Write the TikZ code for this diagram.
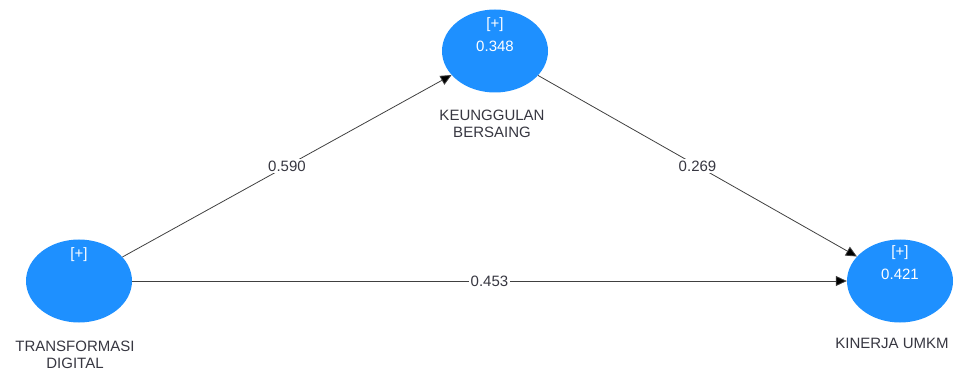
\documentclass[tikz,border=0pt]{standalone}
\usepackage{fontspec}
\setmainfont{Liberation Sans}
\usetikzlibrary{positioning,shapes.geometric,arrows.meta}
\definecolor{lvblue}{RGB}{30,144,255}
\definecolor{txtgray}{RGB}{55,55,65}

\begin{document}
\begin{tikzpicture}[x=1pt,y=-1pt,font=\fontsize{15}{17}\selectfont,
    lv/.style={ellipse,fill=lvblue,minimum width=106pt,minimum height=83pt,inner sep=0pt},
    val/.style={text=white,align=center,font=\fontsize{15}{23}\selectfont},
    nm/.style={text=txtgray,align=center},
    pth/.style={-{Triangle[length=11pt,width=10pt]},draw=black!75,line width=0.8pt},
    coef/.style={fill=white,text=txtgray,inner sep=2pt}]
    \useasboundingbox (0,0) rectangle (960,371);
    \foreach \x/\y/\lab in {79/281/TD,495/51/KB,900/281/KU} {
      \node[lv] (\lab) at (\x,\y) {};
    }
    \node[val] (TDv) at ([yshift=26pt]TD.center) {[+]};
    \node[val] (KBv) at ([yshift=16pt]KB.center) {[+]\\0.348};
    \node[val] (KUv) at ([yshift=18pt]KU.center) {[+]\\0.421};
    \node[nm] (TDn) at (75,355) {TRANSFORMASI\\DIGITAL};
    \node[nm] (KBn) at (492,124) {KEUNGGULAN\\BERSAING};
    \node[nm] (KUn) at (892,343) {KINERJA UMKM};
    \path[pth] (TD) edge node[coef] {0.590} (KB);
    \path[pth] (KB) edge node[coef] {0.269} (KU);
    \path[pth] (TD) edge node[coef] {0.453} (KU);
  \end{tikzpicture}
\end{document}
